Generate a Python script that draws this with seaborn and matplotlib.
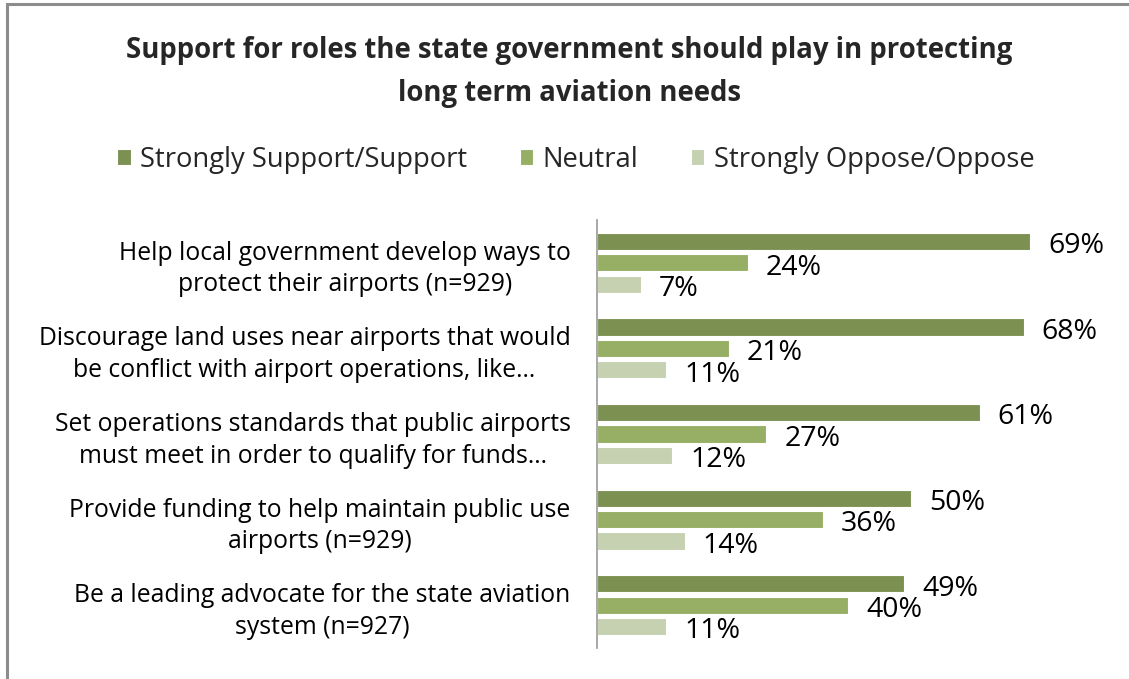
import matplotlib
matplotlib.use("Agg")
import matplotlib.pyplot as plt
from matplotlib.patches import Rectangle
import seaborn as sns
import pandas as pd

categories = [
    "Help local government develop ways to\nprotect their airports (n=929)",
    "Discourage land uses near airports that would\nbe conflict with airport operations, like\u2026",
    "Set operations standards that public airports\nmust meet in order to qualify for funds\u2026",
    "Provide funding to help maintain public use\nairports (n=929)",
    "Be a leading advocate for the state aviation\nsystem (n=927)",
]
series_names = ["Strongly Support/Support", "Neutral", "Strongly Oppose/Oppose"]
support = [69, 68, 61, 50, 49]
neutral = [24, 21, 27, 36, 40]
oppose = [7, 11, 12, 14, 11]
colors = ["#7F9A48", "#9BBB59", "#C6D7AB"]

rows = []
for name, vals in zip(series_names, [support, neutral, oppose]):
    for c, v in zip(categories, vals):
        rows.append({"category": c, "series": name, "value": v})
df = pd.DataFrame(rows)

sns.set_theme(style="white")
plt.rcParams["font.family"] = ["Open Sans", "DejaVu Sans"]

fig = plt.figure(figsize=(11.29, 6.79), dpi=100)
ax = fig.add_axes([597 / 1129, 1 - 648 / 679, (1099 - 597) / 1129, (648 - 220) / 679])

sns.barplot(data=df, x="value", y="category", hue="series", orient="h",
            palette=colors, width=0.75, gap=0.2, edgecolor="white", linewidth=0.8,
            ax=ax, legend=True)

ax.set_xlim(0, 80)
ax.set_xlabel("")
ax.set_ylabel("")
ax.set_xticks([])
for s in ["top", "right", "bottom"]:
    ax.spines[s].set_visible(False)
ax.spines["left"].set_color("#9a9a9a")
ax.spines["left"].set_linewidth(1.2)
ax.tick_params(axis="y", length=0, pad=19, labelsize=17.8)
for lbl in ax.get_yticklabels():
    lbl.set_multialignment("center")
    lbl.set_color("#000000")
    lbl.set_linespacing(1.35)

for cont in ax.containers:
    for bar in cont:
        w = bar.get_width()
        y = bar.get_y() + bar.get_height() / 2
        ax.annotate(f"{w:.0f}%", xy=(w, y), xytext=(13, -3.5), textcoords="offset points",
                    ha="left", va="center", fontsize=20.5, color="#000000")

h, l = ax.get_legend_handles_labels()
ax.get_legend().remove()
fig.legend(h, l, loc="center", bbox_to_anchor=(0.51, 0.765), ncol=3, frameon=False,
           fontsize=19.7, handlelength=0.5, handleheight=0.5, handletextpad=0.35,
           columnspacing=1.9)

fig.text(0.504, 0.894, "Support for roles the state government should play in protecting\nlong term aviation needs",
         ha="center", va="center", fontsize=19.8, fontweight="bold", linespacing=1.6)

fig.add_artist(Rectangle((7 / 1129, -0.1), 1.2, 1.1 - 4 / 679, transform=fig.transFigure,
                         fill=False, edgecolor="#8c8c8c", linewidth=2.2))

fig.savefig("out.png", dpi=100, facecolor="white")
